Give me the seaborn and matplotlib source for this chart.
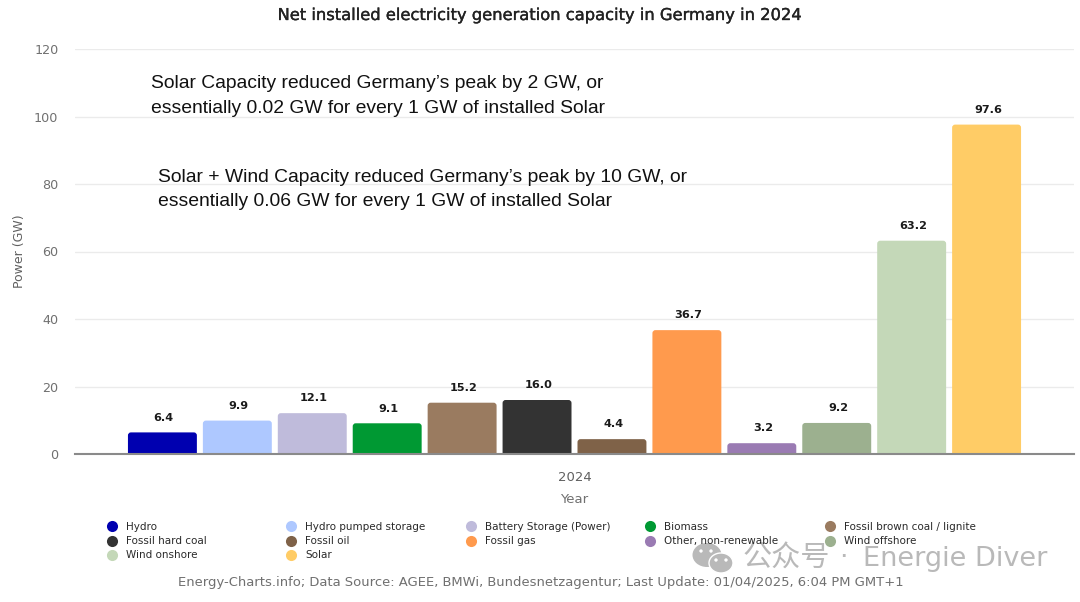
import matplotlib
matplotlib.use("Agg")
import matplotlib.pyplot as plt
import matplotlib.patheffects as pe
from matplotlib.lines import Line2D
from matplotlib.patches import FancyBboxPatch, Ellipse
import pandas as pd
import seaborn as sns

sources = ["Hydro", "Hydro pumped storage", "Battery Storage (Power)", "Biomass",
           "Fossil brown coal / lignite", "Fossil hard coal", "Fossil oil", "Fossil gas",
           "Other, non-renewable", "Wind offshore", "Wind onshore", "Solar"]
capacity = [6.4, 9.9, 12.1, 9.1, 15.2, 16.0, 4.4, 36.7, 3.2, 9.2, 63.2, 97.6]
colors = ["#0000b0", "#aec8ff", "#bfbbdb", "#009933", "#9a7b60", "#333333",
          "#7f6248", "#ff9a4d", "#9a7bb3", "#9cb08f", "#c4d8b8", "#ffcc66"]
year = ["2024"]
yticks = [0, 20, 40, 60, 80, 100, 120]
notes = ["Solar Capacity reduced Germany\u2019s peak by 2 GW, or",
         "essentially 0.02 GW for every 1 GW of installed Solar",
         "Solar + Wind Capacity reduced Germany\u2019s peak by 10 GW, or",
         "essentially 0.06 GW for every 1 GW of installed Solar"]

W, H = 1080, 602
sns.set_theme(style="white")
plt.rcParams["font.family"] = ["DejaVu Sans"]

df = pd.DataFrame({"Year": year * len(sources), "Source": sources, "Power": capacity})

fig = plt.figure(figsize=(W / 100, H / 100), dpi=100, facecolor="white")
ax = fig.add_axes([75 / W, (H - 454) / H, 999 / W, 405 / H])
sns.barplot(data=df, x="Year", y="Power", hue="Source", hue_order=sources, palette=colors,
            width=0.9, gap=0.08, saturation=1, dodge=True, legend=False, errorbar=None, ax=ax)
ax.set_ylim(0, 120)
ax.set_xlim(-0.5, 0.5)
ax.set_yticks(yticks)
ax.yaxis.grid(True, color="#ebebeb", lw=1)
ax.set_axisbelow(True)
for s in ["top", "left", "right"]:
    ax.spines[s].set_visible(False)
ax.spines["bottom"].set_color("#8a8a8a")
ax.spines["bottom"].set_linewidth(1.5)
ax.tick_params(axis="y", length=0, labelsize=9.2, labelcolor="#707070", pad=12)
ax.tick_params(axis="x", length=0, labelsize=9.5, labelcolor="#606060", pad=12)
ax.set_ylabel("Power (GW)", fontsize=9, color="#606060", labelpad=6)
ax.set_xlabel("Year", fontsize=9.5, color="#707070", labelpad=7)

# rounded top corners, derived from the bars seaborn drew
for bar, value in zip(list(ax.patches), capacity):
    x, y, w, h = bar.get_x(), bar.get_y(), bar.get_width(), bar.get_height()
    rx, ry = 0.003, 0.9
    rounded = FancyBboxPatch((x + rx, y - 3), w - 2 * rx, h + 3 - ry,
                             boxstyle="round,pad=0", mutation_scale=1,
                             facecolor=bar.get_facecolor(), edgecolor="none", zorder=bar.get_zorder())
    rounded.set_boxstyle(f"round,pad={rx},rounding_size={rx}")
    rounded.set_mutation_aspect(ry / rx)
    rounded.set_clip_path(ax.patch)
    ax.add_patch(rounded)
    bar.set_visible(False)
    ax.annotate(f"{value:.1f}", (x + w / 2, h), xytext=(1, 7), textcoords="offset points",
                ha="center", va="bottom", fontsize=8.1, fontweight="semibold", color="#1a1a1a")

title = fig.text(541 / W, 1 - 15.5 / H, "Net installed electricity generation capacity in Germany in 2024",
                 ha="center", va="center", fontsize=11.75, color="#222222")
title.set_path_effects([pe.withStroke(linewidth=0.25, foreground="#222222")])

for txt, px, py in zip(notes, [151, 151, 158, 158], [84, 108, 177, 201]):
    fig.text(px / W, 1 - py / H, txt, ha="left", va="center", fontsize=13.88,
             family="Liberation Sans", color="#111111")

# legend: five columns filled row by row
col_x = [104, 283, 463, 642, 822]
for c, px in enumerate(col_x):
    idx = list(range(c, len(sources), 5))
    handles = [Line2D([], [], ls="", marker="o", ms=8, mfc=colors[i], mec="none") for i in idx]
    fig.legend(handles, [sources[i] for i in idx], loc="upper left",
               bbox_to_anchor=(px / W, 1 - 522 / H), frameon=False, fontsize=7.5,
               labelcolor="#2a2a2a", borderpad=0, borderaxespad=0, labelspacing=0.4,
               handletextpad=0.5, handlelength=1.6)

fig.text(540.5 / W, 1 - 582.5 / H,
         "Energy-Charts.info; Data Source: AGEE, BMWi, Bundesnetzagentur; Last Update: 01/04/2025, 6:04 PM GMT+1",
         ha="center", va="center", fontsize=9.48, color="#707070")

# watermark
wm = "#b9b9b9"
fig.add_artist(Ellipse((707 / W, 1 - 555 / H), 29 / W, 24 / H, transform=fig.transFigure,
                       fc=wm, ec="none"))
fig.add_artist(Ellipse((721 / W, 1 - 563 / H), 24 / W, 20 / H, transform=fig.transFigure,
                       fc=wm, ec="white", lw=1))
for ex, ey in [(701, 551), (711, 551), (716, 560), (726, 560)]:
    fig.add_artist(Ellipse((ex / W, 1 - ey / H), 3.4 / W, 3.4 / H, transform=fig.transFigure,
                           fc="white", ec="none"))
fig.text(743 / W, 1 - 559 / H, "\u516c\u4f17\u53f7", ha="left", va="center",
         fontsize=21, color=wm, family="Noto Sans CJK SC")
fig.text(843 / W, 1 - 558 / H, "\u00b7", ha="center", va="center",
         fontsize=19.5, color=wm, family="DejaVu Sans")
fig.text(863 / W, 1 - 559 / H, "Energie Diver", ha="left", va="center",
         fontsize=19.5, color=wm, family="DejaVu Sans")

fig.savefig("out.png", dpi=100)
